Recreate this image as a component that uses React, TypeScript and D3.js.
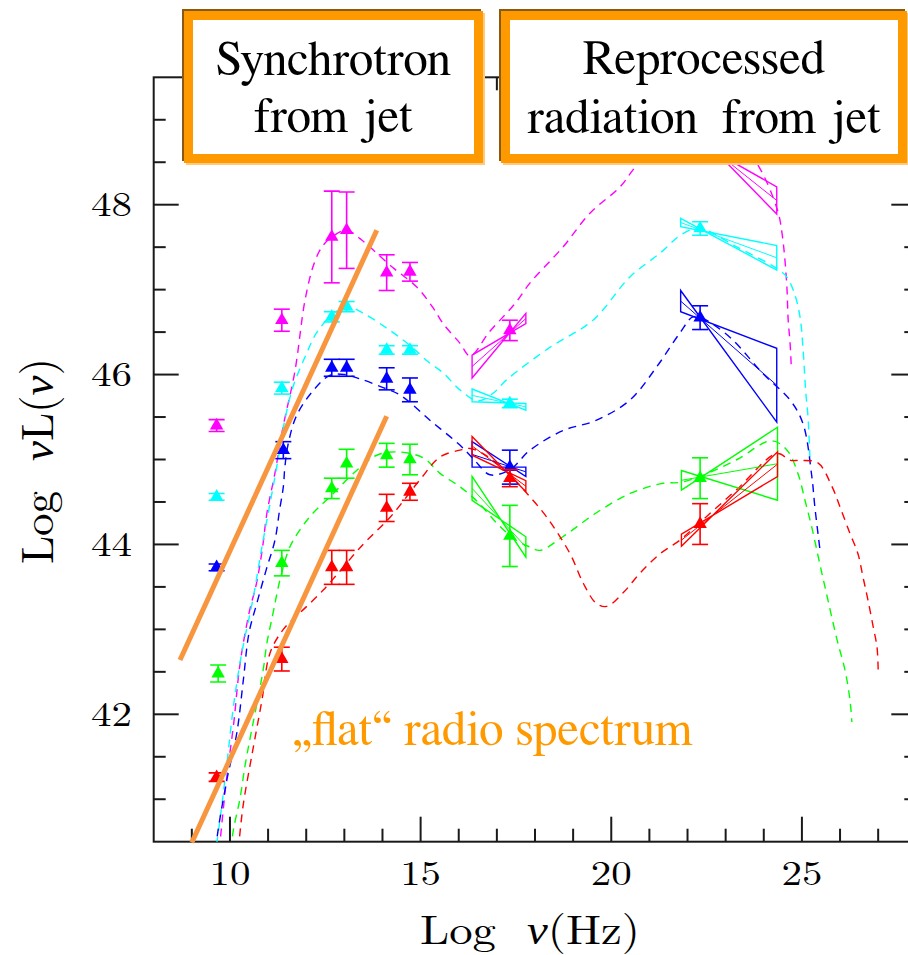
import React from 'react';
import * as d3 from 'd3';

const W = 908;
const H = 955;

// Axis ticks
const xMajorTicks = [10, 15, 20, 25];
const yMajorTicks = [42, 44, 46, 48];

// Measured points: [log nu, log nuL, error]
const magentaPoints = [[9.65, 45.40, 0.07], [11.36, 46.64, 0.13], [12.67, 47.62, 0.54], [13.06, 47.70, 0.45], [14.11, 47.20, 0.21], [14.72, 47.21, 0.11], [17.34, 46.52, 0.12], [22.33, 48.80, 0.10]];
const cyanPoints = [[9.65, 44.56, 0.04], [11.36, 45.84, 0.07], [12.67, 46.68, 0.06], [13.06, 46.80, 0.06], [14.11, 46.29, 0.05], [14.72, 46.29, 0.05], [17.34, 45.66, 0.05], [22.33, 47.72, 0.08]];
const bluePoints = [[9.65, 43.73, 0.04], [11.40, 45.11, 0.10], [12.67, 46.08, 0.10], [13.06, 46.08, 0.10], [14.11, 45.95, 0.13], [14.72, 45.82, 0.14], [17.34, 44.91, 0.20], [22.33, 46.67, 0.14]];
const greenPoints = [[9.69, 42.48, 0.10], [11.36, 43.78, 0.15], [12.67, 44.66, 0.12], [13.06, 44.95, 0.17], [14.11, 45.05, 0.14], [14.72, 45.00, 0.18], [17.34, 44.10, 0.36], [22.33, 44.78, 0.24]];
const redPoints = [[9.65, 41.26, 0.05], [11.36, 42.65, 0.14], [12.67, 43.73, 0.20], [13.06, 43.73, 0.20], [14.11, 44.43, 0.16], [14.72, 44.62, 0.10], [17.34, 44.78, 0.10], [22.33, 44.24, 0.24]];

// Spectral-slope bow ties: [x1, x2, lineA y1, lineA y2, lineB y1, lineB y2]
const magentaBowties = [[16.35, 17.76, 46.23, 46.60, 45.96, 46.72], [21.82, 24.34, 49.05, 47.89, 48.85, 48.21]];
const cyanBowties = [[16.35, 17.76, 45.83, 45.58, 45.68, 45.66], [21.82, 24.34, 47.84, 47.23, 47.74, 47.52]];
const blueBowties = [[16.35, 17.76, 45.21, 44.80, 44.91, 44.91], [21.82, 24.34, 46.99, 45.44, 46.74, 46.31]];
const greenBowties = [[16.35, 17.76, 44.80, 43.85, 44.52, 44.09], [21.84, 24.36, 44.64, 45.38, 44.87, 44.52]];
const redBowties = [[16.35, 17.76, 45.27, 44.62, 45.05, 44.75], [21.84, 24.36, 43.98, 45.09, 44.12, 44.80]];

// Model SEDs (dashed)
const magentaModel = [[9.72, 40.4], [9.9, 41.2], [10.1, 41.9], [10.26, 42.58], [10.5, 43.19], [10.7, 43.55], [10.85, 43.95], [10.97, 44.37], [11.18, 44.84], [11.39, 45.38], [11.7, 46.03], [11.97, 46.88], [12.2, 47.3], [12.41, 47.5], [12.67, 47.62], [13.06, 47.70], [13.41, 47.6], [14.27, 47.26], [14.9, 47.03], [15.32, 46.79], [15.59, 46.6], [16.03, 46.37], [16.3, 46.22], [16.8, 46.5], [17.5, 46.85], [17.87, 47.08], [18.73, 47.5], [19.44, 47.9], [20.23, 48.21], [20.57, 48.41], [21.2, 48.75], [22.0, 48.95], [23.0, 48.9], [23.8, 48.5], [24.35, 47.95], [24.48, 47.66], [24.6, 47.08], [24.64, 46.64], [24.69, 46.37], [24.72, 46.1]];
const cyanModel = [[9.6, 40.3], [9.75, 40.8], [9.94, 41.5], [10.09, 42.09], [10.3, 42.7], [10.6, 43.35], [10.85, 44.0], [11.1, 44.6], [11.3, 45.1], [11.4, 45.38], [11.65, 45.85], [12.01, 46.25], [12.27, 46.49], [12.67, 46.7], [13.06, 46.8], [13.5, 46.72], [14.1, 46.55], [14.7, 46.35], [15.2, 46.15], [15.59, 46.02], [16.03, 45.82], [16.5, 45.69], [16.9, 45.78], [17.26, 45.94], [18.39, 46.32], [19.52, 46.64], [20.49, 47.15], [21.28, 47.43], [21.88, 47.66], [22.33, 47.72], [23.3, 47.5], [24.34, 47.25], [24.6, 47.15], [24.8, 46.96], [24.95, 46.68], [25.03, 46.3], [25.1, 45.8], [25.16, 45.5], [25.21, 45.03]];
const blueModel = [[9.62, 40.4], [9.69, 40.64], [9.92, 41.23], [10.18, 41.78], [10.35, 42.4], [10.5, 42.96], [10.7, 43.3], [10.95, 43.7], [11.18, 44.05], [11.3, 44.4], [11.4, 44.68], [11.44, 44.91], [11.53, 45.19], [11.75, 45.52], [12.18, 45.81], [12.62, 45.99], [13.0, 46.0], [13.41, 45.95], [14.0, 45.85], [14.46, 45.76], [15.25, 45.46], [16.03, 45.17], [16.4, 45.0], [16.82, 44.82], [17.34, 44.88], [17.87, 45.11], [18.73, 45.34], [19.6, 45.46], [20.49, 45.7], [21.19, 46.09], [21.8, 46.49], [22.14, 46.68], [22.4, 46.66], [23.11, 46.44], [23.98, 46.01], [24.69, 45.7], [25.03, 45.42], [25.26, 44.8], [25.34, 44.44], [25.47, 43.95]];
const greenModel = [[10.02, 40.4], [10.09, 40.64], [10.26, 41.0], [10.39, 41.38], [10.52, 41.7], [10.66, 42.02], [10.87, 42.52], [10.97, 42.84], [11.13, 43.19], [11.31, 43.58], [11.57, 43.97], [11.88, 44.2], [12.18, 44.37], [12.62, 44.56], [13.32, 44.87], [13.85, 45.05], [14.37, 45.09], [15.07, 45.02], [15.5, 44.84], [16.03, 44.68], [16.5, 44.5], [17.0, 44.25], [17.5, 44.05], [17.87, 43.97], [18.13, 43.93], [18.73, 44.09], [19.6, 44.37], [20.49, 44.6], [21.36, 44.72], [21.8, 44.73], [22.33, 44.8], [23.3, 45.0], [24.2, 45.22], [24.61, 45.11], [24.9, 44.83], [25.08, 44.52], [25.26, 44.2], [25.47, 43.77], [25.68, 43.35], [25.92, 42.88], [26.13, 42.52], [26.26, 42.17], [26.31, 41.91]];
const redModel = [[10.22, 40.4], [10.34, 40.91], [10.6, 41.58], [10.84, 42.17], [11.05, 42.72], [11.4, 43.0], [11.85, 43.2], [12.44, 43.46], [13.49, 44.0], [14.2, 44.32], [14.98, 44.76], [15.51, 45.03], [16.03, 45.11], [16.3, 45.13], [16.64, 45.07], [17.0, 44.95], [17.34, 44.82], [17.79, 44.6], [18.31, 44.32], [18.92, 43.89], [19.27, 43.54], [19.6, 43.31], [19.88, 43.27], [20.31, 43.43], [20.75, 43.66], [21.28, 43.89], [21.8, 44.05], [22.33, 44.26], [23.3, 44.65], [24.35, 45.07], [24.7, 44.99], [24.95, 44.99], [25.42, 44.96], [25.79, 44.68], [26.0, 44.44], [26.26, 44.13], [26.47, 43.89], [26.6, 43.62], [26.73, 43.35], [26.87, 43.03], [26.97, 42.79], [27.0, 42.52]];

// "flat" radio spectrum guide lines: [x1, y1, x2, y2]
const flatLines = [[8.69, 42.64, 13.85, 47.70], [9.0, 40.49, 14.11, 45.51]];
const flatLabel = [11.65, 41.64];

const series = [
  { color: '#ff00ff', points: magentaPoints, bowties: magentaBowties, model: magentaModel },
  { color: '#00ffff', points: cyanPoints, bowties: cyanBowties, model: cyanModel },
  { color: '#0000ff', points: bluePoints, bowties: blueBowties, model: blueModel },
  { color: '#00ff00', points: greenPoints, bowties: greenBowties, model: greenModel },
  { color: '#ff0000', points: redPoints, bowties: redBowties, model: redModel },
];

const PLOT = { left: 153.7, right: 916.3, top: 77.3, bottom: 841.7 };
const AXIS_FONT = '"Latin Modern Roman"';
const TEXT_FONT = '"FreeSerif", "STIX Two Text", "Nimbus Roman", "Latin Modern Roman"';
const STRETCH = 1.17;

function Box({ x, y, w, h, lines }: { x: number; y: number; w: number; h: number; lines: { text: string; y: number }[] }) {
  const sw = 9;
  return (
    <g>
      <rect x={x - 2} y={y - 2} width={w} height={h} fill="none" stroke="#8a5a14" strokeWidth={sw} />
      <rect x={x + 2} y={y + 2} width={w} height={h} fill="none" stroke="#ffc980" strokeWidth={sw} />
      <rect x={x} y={y} width={w} height={h} fill="#ffffff" stroke="#ff9900" strokeWidth={sw} />
      {lines.map((l, i) => (
        <text key={i} x={x + w / 2} y={l.y} textAnchor="middle" style={{ fontFamily: TEXT_FONT, fontSize: '49px', whiteSpace: 'pre', fill: '#000' }}>
          {l.text}
        </text>
      ))}
    </g>
  );
}

export default function App() {
  const x = d3.scaleLinear().domain([8, 28]).range([PLOT.left, PLOT.right]);
  const y = d3.scaleLinear().domain([40.5, 49.5]).range([PLOT.bottom, PLOT.top]);

  const line = d3
    .line<number[]>()
    .x((d) => x(d[0]))
    .y((d) => y(d[1]))
    .curve(d3.curveCatmullRom.alpha(0.5));

  const tri = d3.symbol(d3.symbolTriangle, 78)() as string;

  const xMinor = d3.range(9, 28, 1);
  const yMinor = d3.range(41, 49.5, 0.5);
  const axisColor = '#1a1a1a';
  const axisText = { fontFamily: AXIS_FONT, fontSize: '35px' };
  const titleText = { fontFamily: AXIS_FONT, fontSize: '41px', whiteSpace: 'pre' as const };

  return (
    <svg width={W} height={H} style={{ position: 'absolute', left: 0, top: 0, background: '#fff' }}>
      <defs>
        <clipPath id="plotClip">
          <rect x={PLOT.left} y={PLOT.top} width={PLOT.right - PLOT.left} height={PLOT.bottom - PLOT.top} />
        </clipPath>
      </defs>
      <rect x={0} y={0} width={W} height={H} fill="#fff" />

      {/* frame */}
      <rect x={PLOT.left} y={PLOT.top} width={PLOT.right - PLOT.left} height={PLOT.bottom - PLOT.top} fill="none" stroke={axisColor} strokeWidth={2} />

      {/* x ticks, bottom and top */}
      {xMinor.map((t) => {
        const major = t % 5 === 0;
        const len = major ? 25 : 13;
        return (
          <g key={'xt' + t} stroke={axisColor} strokeWidth={2}>
            <line x1={x(t)} x2={x(t)} y1={PLOT.bottom} y2={PLOT.bottom - len} />
            <line x1={x(t)} x2={x(t)} y1={PLOT.top} y2={PLOT.top + len} />
          </g>
        );
      })}
      {/* y ticks, left and right */}
      {yMinor.map((t) => {
        const major = yMajorTicks.includes(t);
        const len = major ? 25 : 12;
        return (
          <g key={'yt' + t} stroke={axisColor} strokeWidth={2}>
            <line x1={PLOT.left} x2={PLOT.left + len} y1={y(t)} y2={y(t)} />
            <line x1={PLOT.right} x2={PLOT.right - len} y1={y(t)} y2={y(t)} />
          </g>
        );
      })}

      {xMajorTicks.map((t) => (
        <text key={'xl' + t} transform={`translate(${x(t)},885) scale(${STRETCH},1)`} textAnchor="middle" style={axisText} fill="#000">
          {t}
        </text>
      ))}
      {yMajorTicks.map((t) => (
        <text key={'yl' + t} transform={`translate(132,${y(t) + 11.5}) scale(${STRETCH},1)`} textAnchor="end" style={axisText} fill="#000">
          {t}
        </text>
      ))}

      {/* axis titles */}
      <text transform={`translate(420,944) scale(1.14,1)`} style={titleText} fill="#000">
        <tspan>{'Log  '}</tspan>
        <tspan fontStyle="italic">ν</tspan>
        <tspan>(Hz)</tspan>
      </text>
      <text transform={`translate(53,461) rotate(-90)`} textAnchor="middle" style={{ ...titleText, fontSize: '45px' }} fill="#000">
        <tspan>{'Log  '}</tspan>
        <tspan fontStyle="italic">ν</tspan>
        <tspan>L(</tspan>
        <tspan fontStyle="italic">ν</tspan>
        <tspan>)</tspan>
      </text>

      {/* model curves, bow ties and measurements */}
      <g clipPath="url(#plotClip)">
        {series.map((s, i) => (
          <path key={'m' + i} d={line(s.model) || ''} fill="none" stroke={s.color} strokeWidth={1.4} strokeDasharray="8,6" />
        ))}
        {series.map((s, i) =>
          s.bowties.map((b, j) => {
            const [x1, x2, a1, a2, b1, b2] = b;
            const d = `M${x(x1)},${y(a1)}L${x(x2)},${y(a2)}L${x(x2)},${y(b2)}L${x(x1)},${y(b1)}Z`;
            return (
              <g key={'b' + i + '-' + j} stroke={s.color} fill="none" strokeWidth={1.4}>
                <path d={d} />
                <line x1={x(x1)} y1={y((a1 + b1) / 2)} x2={x(x2)} y2={y((a2 + b2) / 2)} strokeWidth={1} />
              </g>
            );
          })
        )}
        {series.map((s, i) =>
          s.points.map((p, j) => {
            const [px, py, e] = p;
            const cx = x(px);
            return (
              <g key={'p' + i + '-' + j} stroke={s.color} strokeWidth={1.6} fill={s.color}>
                <line x1={cx} x2={cx} y1={y(py - e)} y2={y(py + e)} />
                <line x1={cx - 8} x2={cx + 8} y1={y(py - e)} y2={y(py - e)} />
                <line x1={cx - 8} x2={cx + 8} y1={y(py + e)} y2={y(py + e)} />
                <path d={tri} transform={`translate(${cx},${y(py)})`} stroke="none" />
              </g>
            );
          })
        )}
      </g>

      {/* flat radio spectrum guides */}
      {flatLines.map((l, i) => (
        <line key={'f' + i} x1={x(l[0])} y1={y(l[1])} x2={x(l[2])} y2={y(l[3])} stroke="#f7963f" strokeWidth={5} />
      ))}
      <text x={x(flatLabel[0])} y={y(flatLabel[1])} style={{ fontFamily: TEXT_FONT, fontSize: '49px', fill: '#ff9900' }}>
        „flat“ radio spectrum
      </text>

      {/* annotation boxes */}
      <Box x={188.5} y={15.5} w={290} h={143} lines={[{ text: 'Synchrotron', y: 75 }, { text: 'from jet', y: 132 }]} />
      <Box x={505.5} y={15.5} w={397} h={143} lines={[{ text: 'Reprocessed', y: 74 }, { text: 'radiation  from jet', y: 133 }]} />
    </svg>
  );
}
